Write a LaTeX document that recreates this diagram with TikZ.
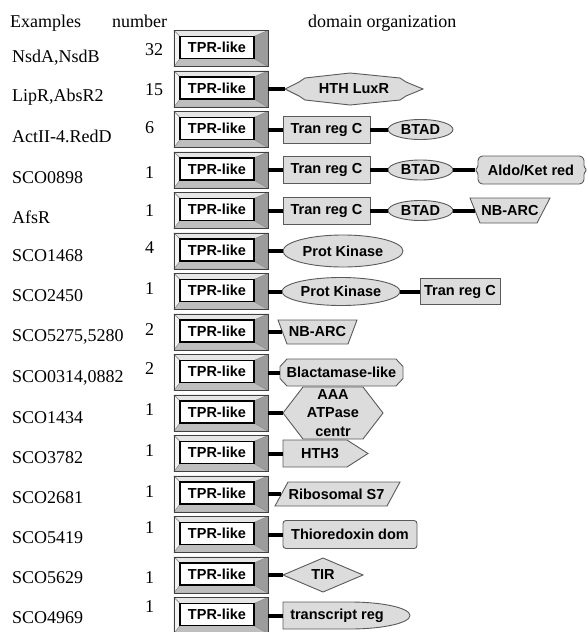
\documentclass[tikz,border=0pt]{standalone}
\usepackage{fontspec}
\setmainfont{Liberation Serif}
\newfontfamily\dsans{Liberation Sans}
\usetikzlibrary{shapes.geometric}
\definecolor{domfill}{HTML}{DCDCDC}
\definecolor{domline}{HTML}{5A5A5A}
\definecolor{facetT}{HTML}{E6E6E6}
\definecolor{facetL}{HTML}{F2F2F2}
\definecolor{facetB}{HTML}{BEBEBE}
\definecolor{facetR}{HTML}{9C9C9C}
\tikzset{
  lbl/.style={font=\fontsize{18}{20}\selectfont, anchor=base west, inner sep=0pt},
  dom/.style={font=\fontsize{14.5}{18.5}\selectfont\dsans\bfseries, inner sep=0pt, align=center},
  shp/.style={fill=domfill, draw=domline, line width=0.9pt},
  domrect/.style={dom, shp, rectangle, minimum width=#1},
  domell/.style={dom, shp, ellipse, minimum width=#1},
  ghost/.style={dom, rectangle, minimum width=#1},
  tprframe/.style={draw=black!75, line width=0.9pt, minimum width=94, minimum height=36, inner sep=0pt},
  tprin/.style={font=\fontsize{14.5}{16}\selectfont\dsans\bfseries, draw=black, line width=1.3pt, fill=white, minimum width=74, minimum height=22, inner sep=0pt},
  facet/.style={draw=black!45, line width=0.4pt},
  link/.style={line width=4pt, black},
}
\newcommand\tprrow[2]{%
  \begin{scope}[shift={(0,#2)}]
    \filldraw[facet, fill=facetT] (174,-18) -- (268,-18) -- (254,-12) -- (180,-12) -- cycle;
    \filldraw[facet, fill=facetL] (174,-18) -- (180,-12) -- (180,10) -- (174,18) -- cycle;
    \filldraw[facet, fill=facetB] (174,18) -- (180,10) -- (254,10) -- (268,18) -- cycle;
    \filldraw[facet, fill=facetR] (268,-18) -- (268,18) -- (254,10) -- (254,-12) -- cycle;
  \end{scope}
  \node[tprframe] (#1o) at (221,#2) {};
  \node[tprin] (#1) at (217,#2-1) {TPR-like};
}
\begin{document}
\begin{tikzpicture}[x=1pt,y=-1pt]
\useasboundingbox (0,0) rectangle (588,632);

% headers
\node[lbl] (hex) at (10,27) {Examples};
\node[lbl] (hnum) at (112,27) {number};
\node[lbl] (hdom) at (308,27) {domain organization};

% names
\node[lbl] (n1) at (12,62) {NsdA,NsdB};
\node[lbl] (n2) at (12,101) {LipR,AbsR2};
\node[lbl] (n3) at (12,142) {ActII-4.RedD};
\node[lbl] (n4) at (12,183) {SCO0898};
\node[lbl] (n5) at (12,223) {AfsR};
\node[lbl] (n6) at (12,261) {SCO1468};
\node[lbl] (n7) at (12,301) {SCO2450};
\node[lbl] (n8) at (12,341) {SCO5275,5280};
\node[lbl] (n9) at (12,382) {SCO0314,0882};
\node[lbl] (n10) at (12,423) {SCO1434};
\node[lbl] (n11) at (12,463) {SCO3782};
\node[lbl] (n12) at (12,503) {SCO2681};
\node[lbl] (n13) at (12,543) {SCO5419};
\node[lbl] (n14) at (12,583) {SCO5629};
\node[lbl] (n15) at (12,623) {SCO4969};

% numbers
\node[lbl] (c1) at (145,55) {32};
\node[lbl] (c2) at (145,95) {15};
\node[lbl] (c3) at (145,133) {6};
\node[lbl] (c4) at (145,178) {1};
\node[lbl] (c5) at (145,216) {1};
\node[lbl] (c6) at (145,253) {4};
\node[lbl] (c7) at (145,294) {1};
\node[lbl] (c8) at (145,335) {2};
\node[lbl] (c9) at (145,374) {2};
\node[lbl] (c10) at (145,415) {1};
\node[lbl] (c11) at (145,456) {1};
\node[lbl] (c12) at (145,497) {1};
\node[lbl] (c13) at (145,533) {1};
\node[lbl] (c14) at (145,583) {1};
\node[lbl] (c15) at (145,612) {1};

% TPR boxes
\tprrow{t1}{48.5}
\tprrow{t2}{89}
\tprrow{t3}{129.5}
\tprrow{t4}{170}
\tprrow{t5}{210.5}
\tprrow{t6}{251}
\tprrow{t7}{291.5}
\tprrow{t8}{332}
\tprrow{t9}{372.5}
\tprrow{t10}{413}
\tprrow{t11}{453.5}
\tprrow{t12}{494}
\tprrow{t13}{534.5}
\tprrow{t14}{575}
\tprrow{t15}{615.5}

% row 2
\draw[shp, shift={(354,89)}] (-69,0) -- (-55,-7) -- (-49,-11) -- (-4,-16) -- (46,-11) -- (52,-7) -- (69,0) -- (52,7) -- (46,11) -- (-4,16) -- (-49,11) -- (-55,7) -- cycle;
\node[ghost=138, minimum height=30] (d2a) at (354,89) {HTH LuxR};

% row 3
\node[domrect=87, minimum height=27] (d3a) at (326.5,129.5) {Tran reg C};
\node[domell=65, minimum height=20] (d3b) at (420.5,129.5) {BTAD};

% row 4
\node[domrect=87, minimum height=27] (d4a) at (326.5,170) {Tran reg C};
\node[domell=65, minimum height=20] (d4b) at (420.5,170) {BTAD};
\draw[shp, shift={(531,170)}, rounded corners=1.5pt] (-50,-14) -- (50,-14) -- (53,-11) -- (53,-3) -- (56,0) -- (53,3) -- (53,11) -- (50,14) -- (-50,14) -- (-53,11) -- (-53,3) -- (-56,0) -- (-53,-3) -- (-53,-11) -- cycle;
\node[ghost=112, minimum height=28] (d4c) at (531,170) {Aldo/Ket red};

% row 5
\node[domrect=87, minimum height=27] (d5a) at (326.5,210.5) {Tran reg C};
\node[domell=65, minimum height=20] (d5b) at (420.5,210.5) {BTAD};
\draw[shp] (470,198) -- (550,198) -- (537,223) -- (480,223) -- cycle;
\node[ghost=70, minimum height=25] (d5c) at (510,210.5) {NB-ARC};

% row 6
\node[domell=120, minimum height=32] (d6a) at (343,251) {Prot Kinase};

% row 7
\node[domell=118, minimum height=28] (d7a) at (341,291.5) {Prot Kinase};
\node[domrect=80, minimum height=26] (d7b) at (460,291.5) {Tran reg C};

% row 8
\draw[shp] (278,320) -- (357,320) -- (348,344) -- (287,344) -- cycle;
\node[ghost=70, minimum height=24] (d8) at (317.5,332) {NB-ARC};

% row 9
\draw[shp, shift={(341.5,372.5)}] (-54.5,-13.5) -- (54.5,-13.5) -- (61.5,-6) -- (61.5,6) -- (54.5,13.5) -- (-54.5,13.5) -- (-61.5,6) -- (-61.5,-6) -- cycle;
\node[ghost=123, minimum height=27] (d9) at (341.5,372.5) {Blactamase-like};

% row 10
\draw[shp, shift={(333,413)}] (-50,0) -- (-30,-26) -- (30,-26) -- (50,0) -- (30,26) -- (-30,26) -- cycle;
\node[ghost=100, minimum height=52] (d10) at (333,413) {AAA\\ATPase\\centr};

% row 11
\draw[shp] (283,440) -- (347,440) -- (368,453.5) -- (347,467) -- (283,467) -- cycle;
\node[ghost=74, minimum height=27] (d11) at (320,453.5) {HTH3};

% row 12
\draw[shp] (288,482) -- (400,482) -- (387,506) -- (275,506) -- cycle;
\node[ghost=110, minimum height=24] (d12) at (336.5,494) {Ribosomal S7};

% row 13
\node[domrect=134, minimum height=28, rounded corners=3pt] (d13) at (350,534.5) {Thioredoxin dom};

% row 14
\draw[shp] (283,575) -- (323,558) -- (363,575) -- (323,592) -- cycle;
\node[ghost=80, minimum height=34] (d14) at (323,575) {TIR};

% row 15
\draw[shp] (283,602) -- (350,602) arc[start angle=90, end angle=-90, x radius=60pt, y radius=13.5pt] -- (283,629) -- cycle;
\node[ghost=108, minimum height=27] (d15) at (337,615.5) {transcript reg};

% connectors
\draw[link] (t2o.east) -- (d2a.west);
\draw[link] (t3o.east) -- (d3a.west);
\draw[link] (d3a.east) -- (d3b.west);
\draw[link] (t4o.east) -- (d4a.west);
\draw[link] (d4a.east) -- (d4b.west);
\draw[link] (d4b.east) -- (d4c.west);
\draw[link] (t5o.east) -- (d5a.west);
\draw[link] (d5a.east) -- (d5b.west);
\draw[link] (d5b.east) -- (d5c.west);
\draw[link] (t6o.east) -- (d6a.west);
\draw[link] (t7o.east) -- (d7a.west);
\draw[link] (d7a.east) -- (d7b.west);
\draw[link] (t8o.east) -- (d8.west);
\draw[link] (t9o.east) -- (d9.west);
\draw[link] (t10o.east) -- (d10.west);
\draw[link] (t11o.east) -- (d11.west);
\draw[link] (t12o.east) -- (d12.west);
\draw[link] (t13o.east) -- (d13.west);
\draw[link] (t14o.east) -- (d14.west);
\draw[link] (t15o.east) -- (d15.west);
\end{tikzpicture}
\end{document}
